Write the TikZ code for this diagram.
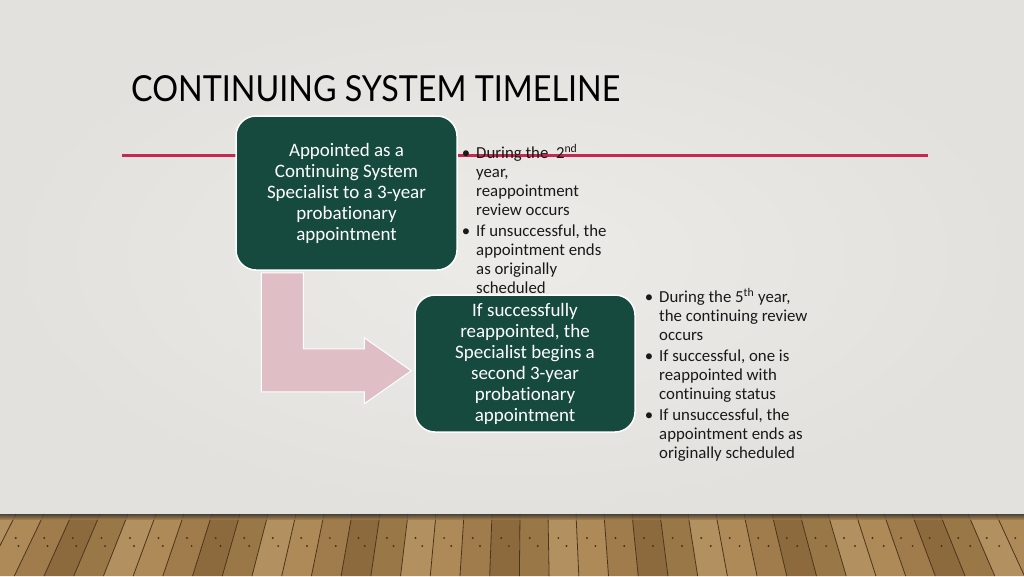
\documentclass[tikz,border=0pt]{standalone}
\usepackage{fontspec}
\setmainfont{Carlito}[Ligatures=NoCommon]
\newfontfamily\titlefont{Lato}
\usetikzlibrary{calc}
\definecolor{wallgray}{HTML}{E3E1DE}
\definecolor{walllight}{HTML}{EDEBE8}
\definecolor{boxgreen}{HTML}{164A3E}
\definecolor{arrowpink}{HTML}{E0BEC6}
\definecolor{rulered}{HTML}{C62850}
\definecolor{wood0}{HTML}{9A7747}
\definecolor{wood1}{HTML}{AD8A57}
\definecolor{wood2}{HTML}{8C6A3D}
\definecolor{wood3}{HTML}{B39060}
\definecolor{wood4}{HTML}{A07C4C}
\definecolor{woodline}{HTML}{4A341C}

\tikzset{
	stage/.style={draw=white, line width=1.5pt, fill=boxgreen, rounded corners=20pt,
		text=white, align=center, inner sep=0pt, font=\fontsize{19}{21}\selectfont},
	notes/.style={anchor=north west, align=left, inner sep=0pt, text=black!90,
		font=\fontsize{16.8}{19}\selectfont},
}
\newcommand{\bul}{\llap{\textbullet\hspace{6pt}}}

\begin{document}
\begin{tikzpicture}[x=1pt, y=-1pt]
	\useasboundingbox (0,0) rectangle (1024,576);
	\fill[wallgray] (0,0) rectangle (1024,514);
	\shade[inner color=walllight, outer color=wallgray] (0,0) rectangle (1024,514);

	\foreach \i in {0,...,40}{
		\pgfmathsetmacro\xa{-40+28*\i}
		\pgfmathsetmacro\xb{\xa+28}
		\pgfmathsetmacro\xc{\xa+(\xa-530)*0.0611}
		\pgfmathsetmacro\xd{\xb+(\xb-530)*0.0611}
		\pgfmathtruncatemacro\tone{mod(\i*3,5)}
		\fill[wood\tone] (\xa,514) -- (\xb,514) -- (\xd,576) -- (\xc,576) -- cycle;
		\draw[woodline, line width=0.8pt] (\xa,514) -- (\xc,576);
		\fill[woodline] ({\xa+10+(\xa-530)*0.02},538) circle (1.1);
		\fill[woodline] ({\xa+18+(\xa-530)*0.03},546) circle (1.1);
	}
	\shade[top color=black!80, bottom color=wood0, opacity=0.8] (0,514) rectangle (1024,519);

	\draw[rulered, line width=3pt] (122,155) -- (928,155);

	\node[anchor=base west, inner sep=0pt] (title) at (131,101)
		{\resizebox{489pt}{26pt}{\titlefont CONTINUING SYSTEM TIMELINE}};

	\node[stage, minimum width=221pt, minimum height=154pt] (box1) at (346.5,193)
		{Appointed as a\\Continuing System\\Specialist to a 3-year\\probationary\\appointment};
	\node[stage, minimum width=220pt, minimum height=137pt] (box2) at (525,363.5)
		{If successfully\\reappointed, the\\Specialist begins a\\second 3-year\\probationary\\appointment};

	\node[notes] (notes1) at (476,144)
		{\bul During the\ \ 2\textsuperscript{nd}\\year,\\reappointment\\review occurs\\[2pt]
		\bul If unsuccessful, the\\appointment ends\\as originally\\scheduled};
	\node[notes] (notes2) at (659,288)
		{\bul During the 5\textsuperscript{th} year,\\the continuing review\\occurs\\[2pt]
		\bul If successful, one is\\reappointed with\\continuing status\\[2pt]
		\bul If unsuccessful, the\\appointment ends as\\originally scheduled};

	\fill[arrowpink, draw=white, line width=1pt] ($(box1.south west)+(26,2)$)
		-- ++(42,0) -- ++(0,76) -- ++(61,0) -- ++(0,-11) -- ++(47,33)
		-- ++(-47,33) -- ++(0,-12) -- ++(-103,0) -- cycle;
\end{tikzpicture}
\end{document}
